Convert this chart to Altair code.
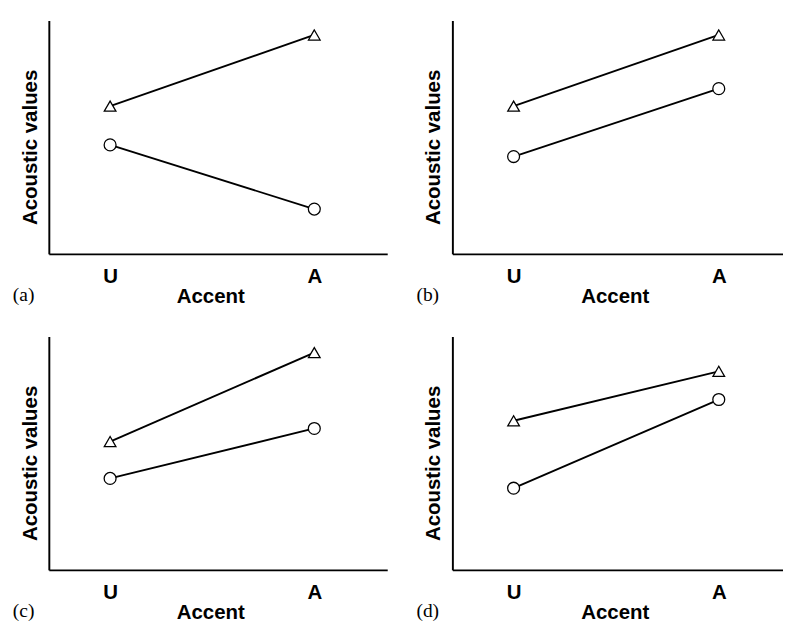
import altair as alt
import pandas as pd

# ---- data ----
accent = ["U", "A"]
series = ["triangle", "circle"]
panel_labels = ["(a)", "(b)", "(c)", "(d)"]

tri_a = [63.3, 93.8]
circ_a = [46.7, 19.2]
tri_b = [63.3, 93.8]
circ_b = [41.7, 70.8]
tri_c = [55.0, 93.1]
circ_c = [39.2, 60.6]
tri_d = [63.9, 85.1]
circ_d = [35.0, 73.0]

SANS = "Liberation Sans"
SERIF = "Liberation Serif"


def panel(label, tri, circ, width, pad, align, title_x):
    df = pd.DataFrame({
        "Accent": accent + accent,
        "series": [series[0]] * 2 + [series[1]] * 2,
        "value": tri + circ,
    })
    x = alt.X(
        "Accent:N", sort=accent,
        scale=alt.Scale(type="point", padding=pad, align=align),
        axis=alt.Axis(
            title="Accent", labelAngle=0, ticks=False, grid=False,
            domainColor="black", domainWidth=2,
            labelFont=SANS, labelFontSize=21, labelFontWeight="bold",
            labelColor="black", labelPadding=12,
            titleFont=SANS, titleFontSize=21, titleFontWeight="bold",
            titleColor="black", titlePadding=0, titleX=title_x,
        ),
    )
    y = alt.Y(
        "value:Q",
        scale=alt.Scale(domain=[0, 100], nice=False, zero=False),
        axis=alt.Axis(
            title="Acoustic values", labels=False, ticks=False, grid=False,
            domainColor="black", domainWidth=2,
            titleFont=SANS, titleFontSize=21, titleFontWeight="bold",
            titleColor="black", titlePadding=9, titleY=130,
        ),
    )
    base = alt.Chart(df)
    line = base.mark_line(color="black", strokeWidth=1.9).encode(
        x=x, y=y, detail="series:N"
    )
    pts = base.mark_point(
        filled=True, fill="white", stroke="black", strokeWidth=1.3, opacity=1
    ).encode(
        x=x, y=y,
        shape=alt.Shape("series:N",
                        scale=alt.Scale(domain=series, range=["triangle-up", "circle"]),
                        legend=None),
        size=alt.Size("series:N",
                      scale=alt.Scale(domain=series, range=[144, 150]),
                      legend=None),
    )
    return alt.layer(line, pts).properties(
        width=width, height=240,
        title=alt.TitleParams(
            label, orient="bottom", anchor="start", frame="group",
            font=SERIF, fontSize=20, fontWeight="normal", color="black",
            dx=-37, offset=-22,
        ),
    )


pa = panel(panel_labels[0], tri_a, circ_a, 348, 0.3286, 0.4565, 166)
pb = panel(panel_labels[1], tri_b, circ_b, 340, 0.3057, 0.488, 167)
pc = panel(panel_labels[2], tri_c, circ_c, 348, 0.3286, 0.4565, 166)
pd_ = panel(panel_labels[3], tri_d, circ_d, 340, 0.3057, 0.488, 167)

chart = alt.vconcat(
    alt.hconcat(pa, pb, spacing=30),
    alt.hconcat(pc, pd_, spacing=30),
    spacing=31,
).properties(
    padding={"left": 5, "top": 4, "right": 0, "bottom": 0},
    background="white",
).configure_view(strokeWidth=0)

chart.save("out.html", embed_options={"renderer": "svg", "actions": False})
